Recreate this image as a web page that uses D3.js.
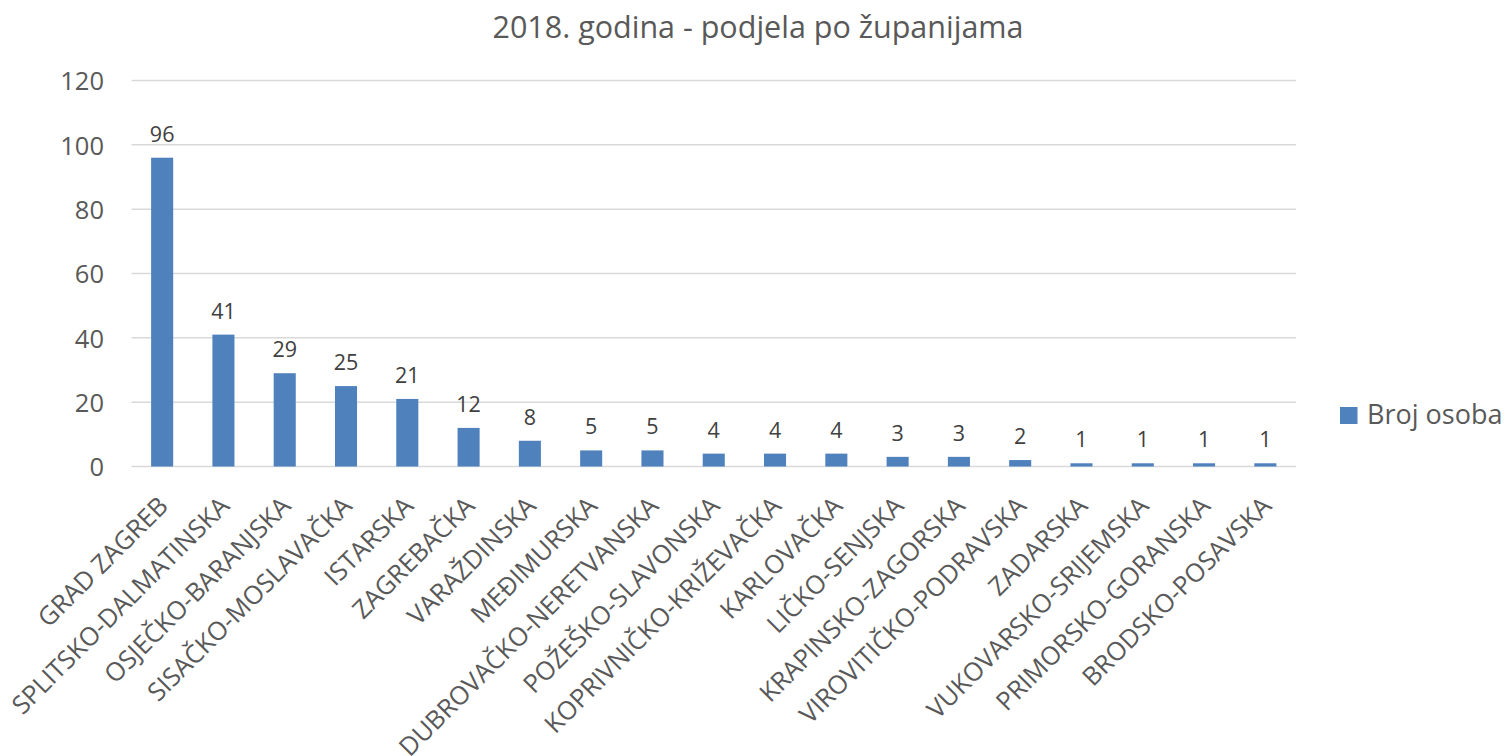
<!DOCTYPE html>
<html><head><meta charset="utf-8">
<script src="https://cdn.jsdelivr.net/npm/d3@7"></script>
<style>body{margin:0;background:#fff;} svg{display:block;}</style>
</head><body>
<svg id="chart" width="1510" height="756"></svg>
<script>
const title = "2018. godina - podjela po županijama";
const seriesName = "Broj osoba";
const categories = ["GRAD ZAGREB","SPLITSKO-DALMATINSKA","OSJEČKO-BARANJSKA","SISAČKO-MOSLAVAČKA","ISTARSKA","ZAGREBAČKA","VARAŽDINSKA","MEĐIMURSKA","DUBROVAČKO-NERETVANSKA","POŽEŠKO-SLAVONSKA","KOPRIVNIČKO-KRIŽEVAČKA","KARLOVAČKA","LIČKO-SENJSKA","KRAPINSKO-ZAGORSKA","VIROVITIČKO-PODRAVSKA","ZADARSKA","VUKOVARSKO-SRIJEMSKA","PRIMORSKO-GORANSKA","BRODSKO-POSAVSKA"];
const values = [96,41,29,25,21,12,8,5,5,4,4,4,3,3,2,1,1,1,1];
const yTicks = [0,20,40,60,80,100,120];

const font = "'Open Sans', sans-serif";
const textColor = "#595959";
const svg = d3.select("#chart");
const plotLeft = 131.5, plotRight = 1296, plotTop = 80.5, plotBottom = 466.5;

const x = d3.scaleBand().domain(categories).range([plotLeft, plotRight]).paddingInner(0.64).paddingOuter(0.32);
const y = d3.scaleLinear().domain([0,120]).range([plotBottom, plotTop]);

// title
svg.append("text").attr("x", 758).attr("y", 38).attr("text-anchor","middle")
  .style("font-family", font).style("font-size","30.5px").attr("fill", textColor).text(title);

// gridlines
svg.append("g").selectAll("line").data(yTicks).join("line")
  .attr("x1", plotLeft).attr("x2", plotRight)
  .attr("y1", d => y(d)).attr("y2", d => y(d))
  .attr("stroke", "#d9d9d9").attr("stroke-width", 1.5);

// y axis labels
const yAxis = d3.axisLeft(y).tickValues(yTicks).tickSize(0).tickPadding(0);
const gy = svg.append("g").attr("transform", `translate(104,0)`).call(yAxis);
gy.select(".domain").remove();
gy.selectAll("text").style("font-family", font).style("font-size","25.5px").attr("fill", textColor).attr("dy","0.36em");

// bars
svg.append("g").selectAll("rect").data(values).join("rect")
  .attr("x", (d,i) => x(categories[i]))
  .attr("width", x.bandwidth())
  .attr("y", d => y(d))
  .attr("height", d => y(0) - y(d))
  .attr("fill", "#4f81bd");

// data labels
svg.append("g").selectAll("text").data(values).join("text")
  .attr("x", (d,i) => x(categories[i]) + x.bandwidth()/2)
  .attr("y", d => y(d) - 16)
  .attr("text-anchor","middle")
  .style("font-family", font).style("font-size","21.5px").attr("fill", "#404040")
  .text(d => d);

// x axis labels
const xAxis = d3.axisBottom(x).tickSize(0).tickPadding(0);
const gx = svg.append("g").attr("transform", `translate(0,${plotBottom})`).call(xAxis);
gx.select(".domain").remove();
gx.selectAll(".tick text")
  .style("font-family", font).style("font-size","25.5px").attr("fill", textColor)
  .attr("text-anchor","end")
  .attr("transform","translate(7.5,41) rotate(-45)")
  .attr("x", 0).attr("y", 0).attr("dy", "0");

// legend
svg.append("rect").attr("x", 1340).attr("y", 407).attr("width", 17.5).attr("height", 17).attr("fill", "#4f81bd");
svg.append("text").attr("x", 1367).attr("y", 423.5)
  .style("font-family", font).style("font-size","27px").attr("fill", textColor).text(seriesName);
</script>
</body></html>
